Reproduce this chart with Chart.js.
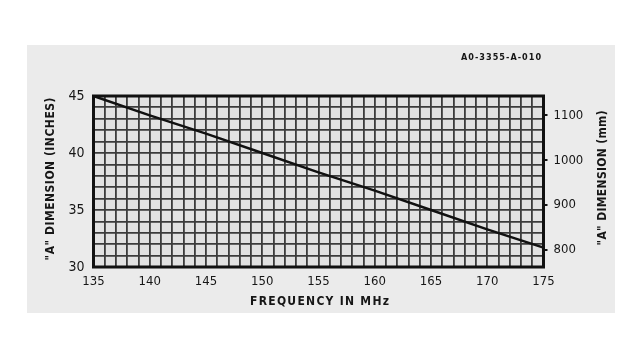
<!DOCTYPE html>
<html>
<head>
<meta charset="utf-8">
<script src="https://cdn.jsdelivr.net/npm/chart.js@4.4.1/dist/chart.umd.min.js"></script>
<style>
  html, body { margin: 0; padding: 0; background: #ffffff; }
  canvas { display: block; }
</style>
</head>
<body>
<canvas id="c" width="640" height="359"></canvas>
<script>
// ---- data ----
const frequencies = [135, 140, 145, 150, 155, 160, 165, 170, 175];           // MHz
const dimensionInches = [45, 43.3, 41.7, 40, 38.3, 36.7, 35, 33.3, 31.7];     // "A" dimension, inches
const xTickLabels = [135, 140, 145, 150, 155, 160, 165, 170, 175];
const leftTickLabels = [30, 35, 40, 45];
const rightTickLabels = [800, 900, 1000, 1100];                             // mm
const xTitle = 'FREQUENCY IN MHz';
const leftTitle = '"A" DIMENSION (INCHES)';
const rightTitle = '"A" DIMENSION (mm)';
const drawingCode = "A0-3355-A-010";

const MM_PER_INCH = 25.4;
const TEXT = '#161616';
const FONT = "'DejaVu Sans Condensed', 'DejaVu Sans', sans-serif";

// draw a text centred at (x,y), rotated, stretched to a target width with letter spacing
function spacedText(ctx, text, x, y, rot, width, font) {
  ctx.save();
  ctx.font = font;
  ctx.letterSpacing = '0px';
  const w0 = ctx.measureText(text).width;
  const sp = Math.max(0, (width - w0) / (text.length - 1));
  ctx.letterSpacing = sp.toFixed(2) + 'px';
  ctx.translate(x, y);
  ctx.rotate(rot);
  ctx.fillStyle = TEXT;
  ctx.textAlign = 'left';
  ctx.textBaseline = 'middle';
  ctx.fillText(text, -width / 2, 0);
  ctx.restore();
}

const panelPlugin = {
  id: 'panel',
  beforeDraw(chart) {
    const ctx = chart.ctx;
    ctx.save();
    ctx.fillStyle = '#ffffff';
    ctx.fillRect(0, 0, chart.width, chart.height);
    ctx.fillStyle = '#ebebeb';
    ctx.fillRect(27, 45, 588, 268);
    const a = chart.chartArea;
    ctx.fillStyle = '#e2e2e2';
    ctx.fillRect(a.left, a.top, a.right - a.left, a.bottom - a.top);
    ctx.restore();
  },
  afterDraw(chart) {
    const ctx = chart.ctx;
    const a = chart.chartArea;
    ctx.save();
    ctx.strokeStyle = '#111111';
    ctx.lineWidth = 3;
    ctx.strokeRect(a.left, a.top, a.right - a.left, a.bottom - a.top);
    ctx.restore();
    const tf = "bold 12px " + FONT;
    spacedText(ctx, xTitle, (a.left + a.right) / 2 + 1, 302, 0, 139, tf);
    spacedText(ctx, leftTitle, 51, 179, -Math.PI / 2, 163, tf);
    spacedText(ctx, rightTitle, 603, 178, -Math.PI / 2, 135, tf);
    spacedText(ctx, drawingCode, 501, 58, 0, 80, "bold 9px " + FONT);
  }
};

new Chart(document.getElementById('c'), {
  type: 'line',
  data: {
    datasets: [{
      data: frequencies.map((f, i) => ({ x: f, y: dimensionInches[i] })),
      borderColor: '#111111',
      borderWidth: 2.5,
      pointRadius: 0,
      tension: 0,
      yAxisID: 'y'
    }]
  },
  options: {
    responsive: false,
    animation: false,
    events: [],
    layout: { padding: { top: 96, left: 0, right: 0, bottom: 0 } },
    plugins: { legend: { display: false }, tooltip: { enabled: false } },
    scales: {
      x: {
        type: 'linear',
        min: 135, max: 175,
        afterFit(s) { s.height = 92; },
        afterBuildTicks(s) {
          const t = [];
          for (let v = 135; v <= 175; v++) t.push({ value: v });
          s.ticks = t;
        },
        ticks: {
          autoSkip: false,
          maxRotation: 0,
          padding: 7,
          color: TEXT,
          font: { family: FONT, size: 13 },
          callback: (v) => xTickLabels.includes(v) ? String(v) : ''
        },
        grid: { color: '#3c3c3c', lineWidth: 1.8, drawTicks: false },
        border: { display: false },
        title: { display: false }
      },
      y: {
        type: 'linear',
        position: 'left',
        min: 30, max: 45,
        afterFit(s) { s.width = 93.5; },
        afterBuildTicks(s) {
          const t = [];
          for (let v = 30; v <= 45; v++) t.push({ value: v });
          s.ticks = t;
        },
        ticks: {
          autoSkip: false,
          padding: 9,
          color: TEXT,
          font: { family: FONT, size: 14 },
          callback: (v) => leftTickLabels.includes(v) ? String(v) : ''
        },
        grid: { color: '#3c3c3c', lineWidth: 1.8, drawTicks: false },
        border: { display: false },
        title: { display: false }
      },
      y1: {
        type: 'linear',
        position: 'right',
        min: 30 * MM_PER_INCH, max: 45 * MM_PER_INCH,
        afterFit(s) { s.width = 96.5; },
        afterBuildTicks(s) { s.ticks = rightTickLabels.map(v => ({ value: v })); },
        ticks: {
          autoSkip: false,
          padding: 6,
          color: TEXT,
          font: { family: FONT, size: 13 },
          callback: (v) => String(v)
        },
        grid: { drawOnChartArea: false, drawTicks: true, tickLength: 4, color: '#111111', lineWidth: 2 },
        border: { display: false },
        title: { display: false }
      }
    }
  },
  plugins: [panelPlugin]
});
</script>
</body>
</html>
